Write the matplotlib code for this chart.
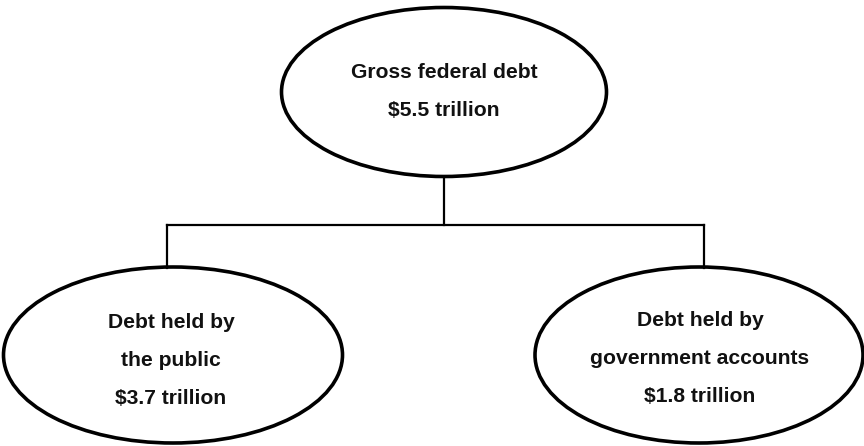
import matplotlib.pyplot as plt
from matplotlib.patches import Ellipse

plt.rcParams["font.family"] = ["Liberation Sans", "DejaVu Sans"]

labels = ["Gross federal debt", "Debt held by\nthe public", "Debt held by\ngovernment accounts"]
values = [5.5, 3.7, 1.8]

# node layout in pixel coords (x, y, width, height) and text centre
nodes = [(444, 92, 325, 169), (173, 355, 339, 176), (699, 355, 328, 176)]
text_xy = [(444, 91), (171, 360), (700, 358)]
stems_x = [444, 167, 704]
bar_y = 225

fig = plt.figure(figsize=(8.64, 4.46), dpi=100)
ax = fig.add_axes([0, 0, 1, 1])
ax.set_xlim(0, 864)
ax.set_ylim(446, 0)
ax.axis("off")

for (x, y, w, h), (tx, ty), label, val in zip(nodes, text_xy, labels, values):
    ax.add_patch(Ellipse((x, y), w, h, fill=False, edgecolor="black", linewidth=2.6))
    lines = label.split("\n") + ["$%.1f trillion" % val]
    gap = 38
    y0 = ty - gap * (len(lines) - 1) / 2
    for i, t in enumerate(lines):
        ax.text(tx, y0 + i * gap, t.replace("$", r"\$"), ha="center", va="center",
                fontsize=15.2, fontweight="bold", color="#111111")

# connectors
top = nodes[0]
ax.plot([stems_x[0], stems_x[0]], [top[1] + top[3] / 2, bar_y], color="black", lw=1.6)
ax.plot([stems_x[1], stems_x[2]], [bar_y, bar_y], color="black", lw=1.6)
for sx, (x, y, w, h) in zip(stems_x[1:], nodes[1:]):
    ax.plot([sx, sx], [bar_y, y - h / 2 + 1], color="black", lw=1.6)

fig.savefig("out.png", dpi=100, facecolor="white")
